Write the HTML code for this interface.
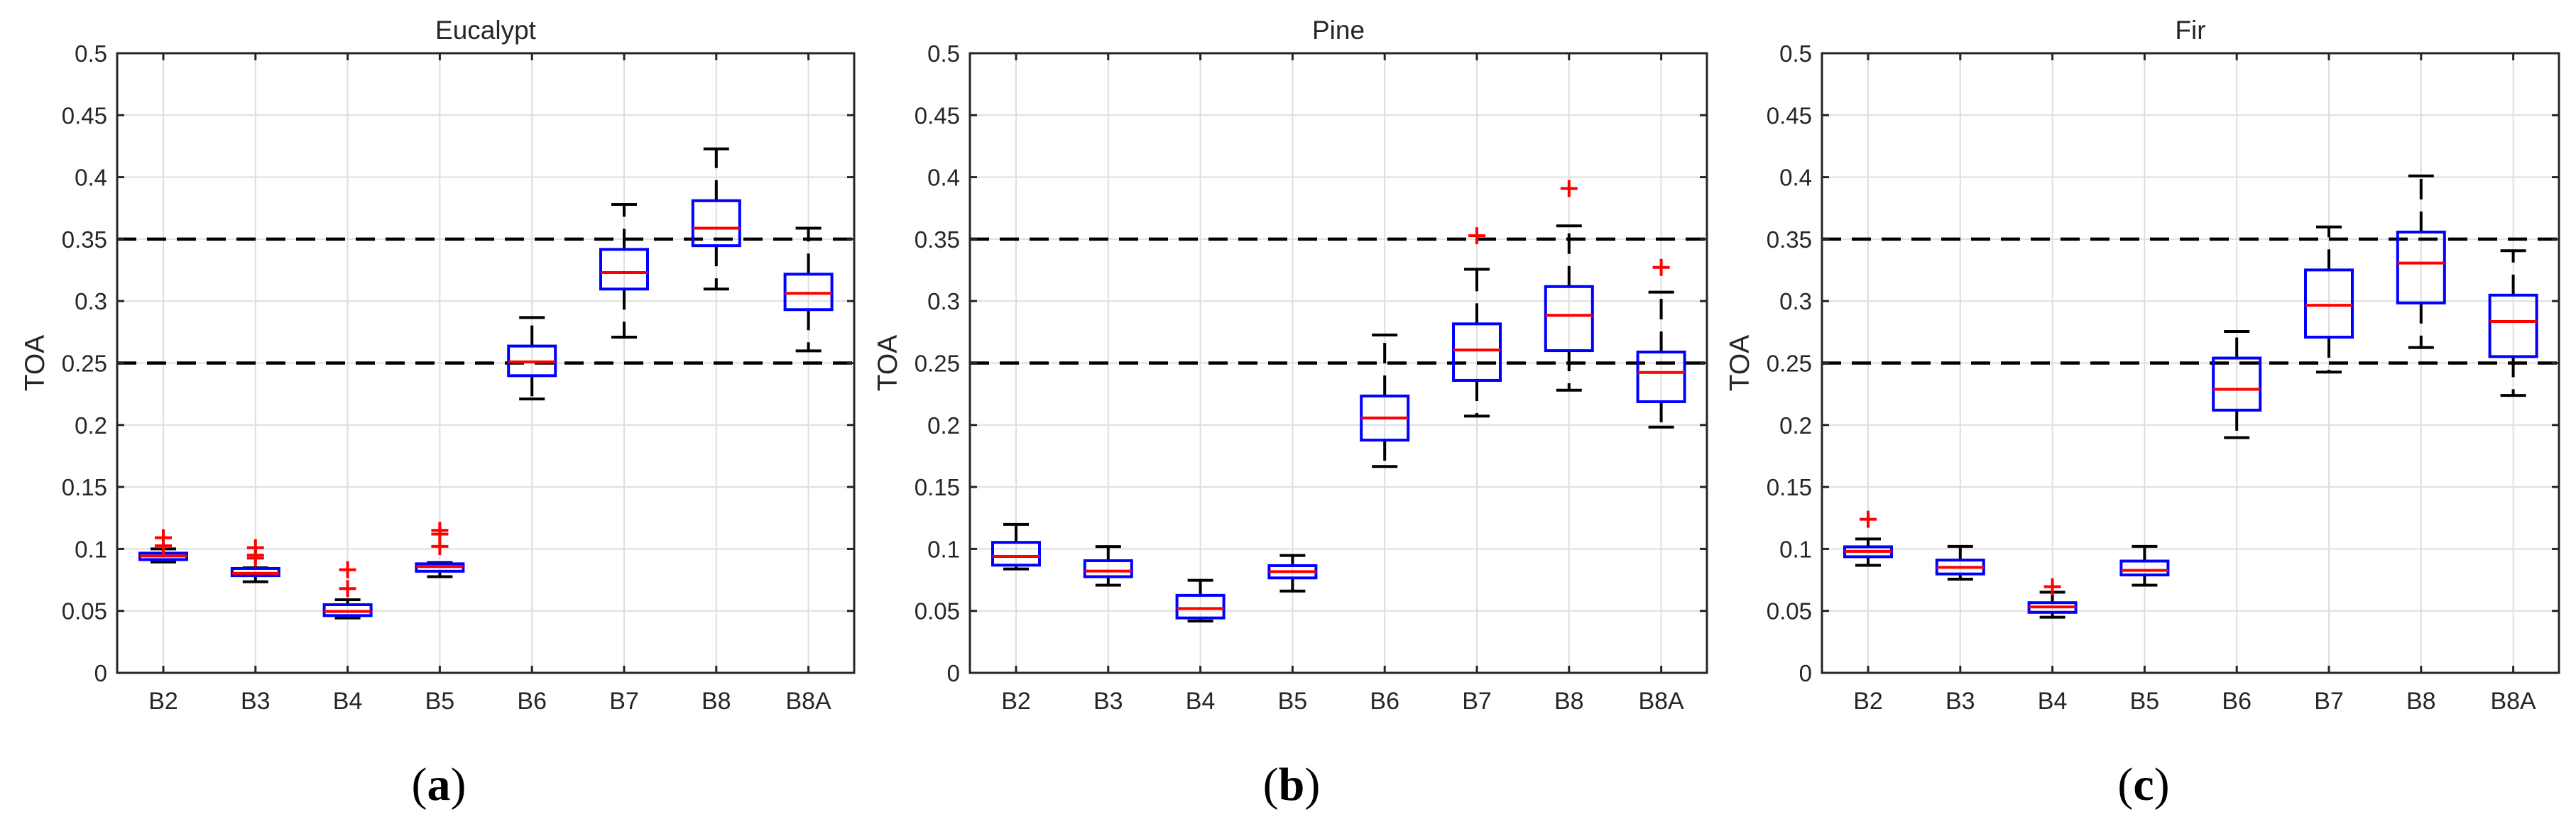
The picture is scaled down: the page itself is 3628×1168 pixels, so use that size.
<!DOCTYPE html>
<html><head><meta charset="utf-8"><style>
html,body{margin:0;padding:0;background:#fff}
svg{display:block}
text{font-family:"Liberation Sans",Arial,sans-serif;fill:#262626}
</style></head><body>
<svg id="fig" width="3628" height="1168" viewBox="0 0 3628 1168" xmlns="http://www.w3.org/2000/svg"></svg>
<script>
const categories = ["B2","B3","B4","B5","B6","B7","B8","B8A"];
const yTicks = [0,0.05,0.1,0.15,0.2,0.25,0.3,0.35,0.4,0.45,0.5];
const yTickLabels = ["0","0.05","0.1","0.15","0.2","0.25","0.3","0.35","0.4","0.45","0.5"];
const refLines = [0.25,0.35];
const panelTitles = ["Eucalypt","Pine","Fir"];
const panelLetters = ["a","b","c"];
// Eucalypt
const eucLow  = [0.0895,0.0735,0.0443,0.0776,0.221,0.2709,0.3097,0.2598];
const eucQ1   = [0.0914,0.0784,0.0462,0.082,0.2398,0.3097,0.3447,0.2931];
const eucMed  = [0.0943,0.0803,0.0496,0.0858,0.2509,0.323,0.3588,0.3063];
const eucQ3   = [0.0966,0.0842,0.055,0.088,0.2637,0.3417,0.381,0.3217];
const eucHigh = [0.100,0.0848,0.059,0.089,0.2867,0.378,0.4228,0.3588];
const eucOut  = [[0.109,0.1025],[0.101,0.095,0.0926],[0.0832,0.068],[0.115,0.112,0.102],[],[],[],[]];
// Pine
const pineLow  = [0.0838,0.0707,0.0418,0.066,0.1665,0.2072,0.2281,0.1983];
const pineQ1   = [0.0869,0.0776,0.0443,0.0766,0.1878,0.236,0.26,0.2188];
const pineMed  = [0.0939,0.0821,0.0519,0.0817,0.2057,0.2605,0.2885,0.2424];
const pineQ3   = [0.1053,0.0905,0.0625,0.0865,0.2234,0.2816,0.3117,0.2589];
const pineHigh = [0.1198,0.1019,0.0747,0.0947,0.2726,0.3257,0.3607,0.3072];
const pineOut  = [[],[],[],[],[],[0.3527],[0.3908],[0.3272]];
// Fir
const firLow  = [0.0868,0.0756,0.0449,0.0707,0.1898,0.2427,0.2625,0.2239];
const firQ1   = [0.0937,0.0798,0.0488,0.079,0.212,0.2709,0.2985,0.2552];
const firMed  = [0.098,0.0851,0.0532,0.0827,0.2288,0.2966,0.3307,0.2835];
const firQ3   = [0.1017,0.091,0.0566,0.0902,0.254,0.3251,0.3557,0.3048];
const firHigh = [0.108,0.102,0.0651,0.102,0.2755,0.3598,0.401,0.3406];
const firOut  = [[0.1239],[],[0.0695],[],[],[],[],[]];

const panels = [
  {low:eucLow,q1:eucQ1,med:eucMed,q3:eucQ3,high:eucHigh,out:eucOut},
  {low:pineLow,q1:pineQ1,med:pineMed,q3:pineQ3,high:pineHigh,out:pineOut},
  {low:firLow,q1:firQ1,med:firMed,q3:firQ3,high:firHigh,out:firOut}
];

const NS="http://www.w3.org/2000/svg";
const svg=document.getElementById("fig");
function mk(tag,attrs,parent){const e=document.createElementNS(NS,tag);for(const k in attrs)e.setAttribute(k,attrs[k]);(parent||svg).appendChild(e);return e;}

const axTop=75, axBot=948, axW=1038;
const panelLeft=[165,1366,2566];
function yScale(v){return axBot-(v/0.5)*(axBot-axTop);}

panels.forEach((p,pi)=>{
  const L=panelLeft[pi], R=L+axW;
  function xScale(i){return L+65+i*129.8;}
  const g=mk("g",{});
  
  
  // grid
  yTicks.forEach(v=>{
    const l=mk("line",{x1:L,x2:R,y1:yScale(v),y2:yScale(v),stroke:"#dedede","stroke-width":2},g);
    
    
  });
  categories.forEach((c,i)=>{
    const l=mk("line",{x1:xScale(i),x2:xScale(i),y1:axTop,y2:axBot,stroke:"#dedede","stroke-width":2},g);
    
    
  });
  // reference dashed lines
  refLines.forEach(v=>{
    const l=mk("line",{x1:L,x2:R,y1:yScale(v),y2:yScale(v),stroke:"#000","stroke-width":4.5,"stroke-dasharray":"27 15"},g);
    
    
  });
  // axes box
  const box=mk("rect",{x:L,y:axTop,width:axW,height:axBot-axTop,fill:"none",stroke:"#262626","stroke-width":3},g);
  
  
  // ticks & labels
  yTicks.forEach((v,k)=>{
    const y=yScale(v);
    mk("line",{x1:L,x2:L+10,y1:y,y2:y,stroke:"#262626","stroke-width":3},g);
    mk("line",{x1:R-10,x2:R,y1:y,y2:y,stroke:"#262626","stroke-width":3},g);
    const t=mk("text",{x:L-14,y:y+12,"text-anchor":"end","font-size":33},g);
    t.textContent=yTickLabels[k];
    
    
  });
  categories.forEach((c,i)=>{
    const x=xScale(i);
    mk("line",{x1:x,x2:x,y1:axBot,y2:axBot-10,stroke:"#262626","stroke-width":3},g);
    mk("line",{x1:x,x2:x,y1:axTop,y2:axTop+10,stroke:"#262626","stroke-width":3},g);
    const t=mk("text",{x:x,y:999,"text-anchor":"middle","font-size":34},g);
    t.textContent=c;
    
    
  });
  const tt=mk("text",{x:L+axW/2,y:55,"text-anchor":"middle","font-size":37,fill:"#000"},g);
  tt.textContent=panelTitles[pi];
  
  
  const yl=mk("text",{x:0,y:0,"text-anchor":"middle","font-size":39,transform:`translate(${L-103},${(axTop+axBot)/2}) rotate(-90)`},g);
  yl.textContent="TOA";
  
  
  const lt=mk("text",{x:L+453,y:1127,"text-anchor":"middle","font-size":66,"font-family":"Liberation Serif, serif",style:"font-family:'Liberation Serif',serif;fill:#000"},g);
  lt.innerHTML='('+'<tspan font-weight="bold">'+panelLetters[pi]+'</tspan>'+')';
  
  
  // boxes
  categories.forEach((c,i)=>{
    const x=xScale(i), bw=33, cw=18;
    const bg=mk("g",{},g);
    
    
    mk("line",{x1:x,x2:x,y1:yScale(p.q3[i]),y2:yScale(p.high[i]),stroke:"#000","stroke-width":4,"stroke-dasharray":"29 17"},bg);
    mk("line",{x1:x,x2:x,y1:yScale(p.q1[i]),y2:yScale(p.low[i]),stroke:"#000","stroke-width":4,"stroke-dasharray":"29 17"},bg);
    mk("line",{x1:x-cw,x2:x+cw,y1:yScale(p.high[i]),y2:yScale(p.high[i]),stroke:"#000","stroke-width":4},bg);
    mk("line",{x1:x-cw,x2:x+cw,y1:yScale(p.low[i]),y2:yScale(p.low[i]),stroke:"#000","stroke-width":4},bg);
    mk("rect",{x:x-bw,y:yScale(p.q3[i]),width:2*bw,height:yScale(p.q1[i])-yScale(p.q3[i]),fill:"none",stroke:"#0000ff","stroke-width":4},bg);
    mk("line",{x1:x-bw,x2:x+bw,y1:yScale(p.med[i]),y2:yScale(p.med[i]),stroke:"#ff0000","stroke-width":4},bg);
    p.out[i].forEach(v=>{
      const y=yScale(v);
      const o=mk("path",{d:`M${x-12},${y}H${x+12}M${x},${y-12}V${y+12}`,stroke:"#ff0000","stroke-width":4,fill:"none"},bg);
      
      
    });
  });
});
</script>
</body></html>
